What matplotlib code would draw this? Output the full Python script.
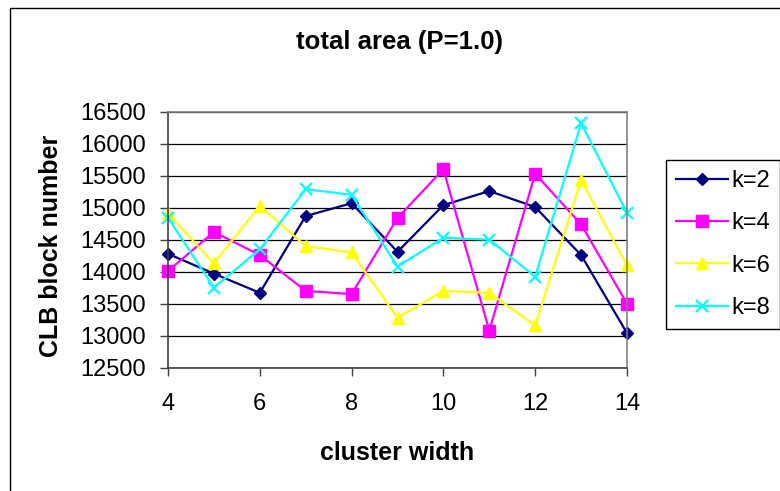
import matplotlib
matplotlib.use("Agg")
import matplotlib.pyplot as plt
from matplotlib.patches import Rectangle

# Cluster widths on the x axis
cluster_width = [4, 5, 6, 7, 8, 9, 10, 11, 12, 13, 14]

# CLB block counts for each k
k2 = [14280, 13970, 13670, 14870, 15070, 14310, 15040, 15260, 15010, 14260, 13040]
k4 = [14010, 14620, 14260, 13700, 13650, 14840, 15600, 13080, 15530, 14740, 13500]
k6 = [14910, 14130, 15030, 14400, 14300, 13280, 13700, 13670, 13160, 15430, 14100]
k8 = [14840, 13750, 14350, 15290, 15200, 14080, 14530, 14500, 13920, 16320, 14920]

series_labels = ["k=2", "k=4", "k=6", "k=8"]
y_ticks = [12500, 13000, 13500, 14000, 14500, 15000, 15500, 16000, 16500]
x_ticks = [4, 6, 8, 10, 12, 14]

plt.rcParams["font.family"] = ["Liberation Sans", "DejaVu Sans"]

W, H = 780, 491
fig = plt.figure(figsize=(W / 100, H / 100), dpi=100)
fig.patch.set_facecolor("white")

# Outer chart border
fig.patches.append(Rectangle((10 / W, -0.1), 1.2, 1 - 8 / H + 0.1,
                             transform=fig.transFigure, fill=False,
                             edgecolor="black", linewidth=1.0, zorder=0))

ax = fig.add_axes([168 / W, 1 - 367.7 / H, (627 - 168) / W, (367.7 - 111.7) / H])

styles = [
    dict(color="#000080", marker="D", ms=6.3),
    dict(color="#FF00FF", marker="s", ms=8.0),
    dict(color="#FFFF00", marker="^", ms=9.0),
    dict(color="#00FFFF", marker="x", ms=9.0, mew=1.6),
]
for vals, lab, st in zip([k2, k4, k6, k8], series_labels, styles):
    ax.plot(cluster_width, vals, label=lab, linewidth=1.6, clip_on=False, **st)

ax.set_xlim(4, 14)
ax.set_ylim(12500, 16500)
ax.set_xticks(x_ticks)
ax.set_yticks(y_ticks)
ax.yaxis.grid(True, color="black", linewidth=0.9)
ax.set_axisbelow(True)

for side in ("top", "right"):
    ax.spines[side].set_color("#808080")
    ax.spines[side].set_linewidth(1.2)
for side in ("left", "bottom"):
    ax.spines[side].set_color("#404040")
    ax.spines[side].set_linewidth(1.2)

ax.tick_params(axis="both", direction="out", length=6, width=1.0,
               color="#404040", labelsize=17, pad=10)
ax.tick_params(axis="x", pad=12)

ax.set_xlabel("cluster width", fontsize=18, fontweight="bold", labelpad=19)
ax.set_ylabel("CLB block number", fontsize=18, fontweight="bold")
ax.yaxis.set_label_coords(63 / W, 0.5, transform=fig.transFigure)

fig.text(400 / W, 1 - 42 / H, "total area (P=1.0)", fontsize=18.5,
         fontweight="bold", ha="center", va="center")

leg = fig.legend(loc="upper left", bbox_to_anchor=(666 / W, 1 - 160 / H),
                 fontsize=17, frameon=True, fancybox=False, edgecolor="black",
                 framealpha=1, handlelength=2.2, handletextpad=0.15,
                 labelspacing=0.86, borderpad=0.42, borderaxespad=0)
leg.get_frame().set_linewidth(1.0)

fig.savefig("out.png", dpi=100, facecolor="white")
